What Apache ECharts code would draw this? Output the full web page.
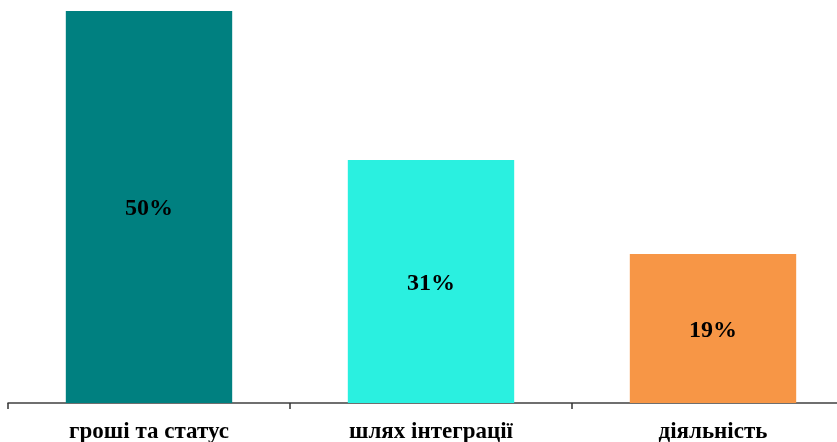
<!DOCTYPE html>
<html><head><meta charset="utf-8">
<script src="https://cdn.jsdelivr.net/npm/echarts@6/dist/echarts.min.js"></script>
<style>html,body{margin:0;padding:0;background:#fff}#c{width:837px;height:442px}</style>
</head><body><div id="c"></div>
<script>
const categories = ['гроші та статус', 'шлях інтеграції', 'діяльність'];
const values = [50, 31, 19];
const colors = ['#008080', '#2AF0E0', '#F79646'];

const chart = echarts.init(document.getElementById('c'));
chart.setOption({
  animation: false,
  grid: { left: 8, width: 846, top: 11, bottom: 39, containLabel: false, outerBoundsMode: 'none' },
  xAxis: {
    type: 'category', data: categories,
    axisLine: { lineStyle: { color: '#404040', width: 1.5 } },
    axisTick: { show: true, length: 6, lineStyle: { color: '#333', width: 1.5 } },
    axisLabel: { color: '#000', fontFamily: 'Liberation Serif', fontWeight: 'bold', fontSize: 23, margin: 18 }
  },
  yAxis: { type: 'value', min: 0, max: 50, show: false, splitLine: { show: false } },
  series: [{
    type: 'bar', barWidth: '59%',
    data: values.map((v, i) => ({ value: v, itemStyle: { color: colors[i] } })),
    label: { show: true, position: 'inside', offset: [0, 2], formatter: '{c}%', color: '#000', fontFamily: 'Liberation Serif', fontWeight: 'bold', fontSize: 24 }
  }]
});
</script></body></html>
